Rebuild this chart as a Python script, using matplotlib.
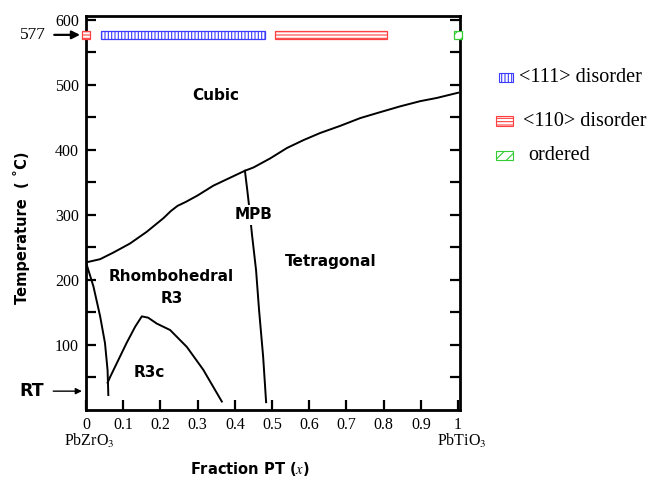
import matplotlib
matplotlib.use("Agg")
import matplotlib.pyplot as plt
from matplotlib.patches import Rectangle

plt.rcParams['mathtext.fontset'] = 'stix'
plt.rcParams['hatch.linewidth'] = 0.8

# ---------------- data ----------------
cubic_x = [0.0, 0.038, 0.073, 0.118, 0.163, 0.208, 0.228, 0.246, 0.268, 0.30, 0.342, 0.427,
           0.45, 0.495, 0.54, 0.584, 0.629, 0.683, 0.737, 0.79, 0.844, 0.898, 0.943, 1.0]
cubic_T = [227, 232, 242, 256, 274, 295, 306, 314, 320, 330, 345, 368,
           373, 387, 403, 415, 426, 437, 449, 458, 467, 475, 480, 488]

mpb_x = [0.427, 0.433, 0.438, 0.446, 0.457, 0.465, 0.476, 0.484]
mpb_T = [368, 340, 315, 270, 215, 154, 82, 12]

left_x = [0.0, 0.02, 0.038, 0.051, 0.058, 0.06]
left_T = [227, 190, 144, 103, 61, 23]

r3c_x = [0.058, 0.065, 0.087, 0.109, 0.132, 0.15, 0.167, 0.19, 0.226, 0.271, 0.315, 0.365]
r3c_T = [42, 51, 77, 103, 128, 144, 142, 133, 123, 97, 62, 13]

bar_T = 577
bar_start = [-0.012, 0.040, 0.508, 0.989]
bar_end = [0.011, 0.481, 0.809, 1.011]
bar_kind = ['<110> disorder', '<111> disorder', '<110> disorder', 'ordered']

kinds = ['<111> disorder', '<110> disorder', 'ordered']
kind_color = {'<111> disorder': '#3b3bff', '<110> disorder': '#ff4040', 'ordered': '#33cc33'}
kind_hatch = {'<111> disorder': '|||||', '<110> disorder': '-----', 'ordered': '///'}

xticks = [0, 0.1, 0.2, 0.3, 0.4, 0.5, 0.6, 0.7, 0.8, 0.9, 1]
xticklabels = ['0', '0.1', '0.2', '0.3', '0.4', '0.5', '0.6', '0.7', '0.8', '0.9', '1']
yticks = [100, 200, 300, 400, 500, 600]
yminor = [50, 150, 250, 350, 450, 550]

regions = [('Cubic', 0.35, 483), ('Rhombohedral', 0.23, 206), ('R3', 0.23, 172),
           ('R3c', 0.17, 57), ('Tetragonal', 0.658, 228)]

# ---------------- figure ----------------
W, H = 653, 480
fig = plt.figure(figsize=(W / 100, H / 100), dpi=100)
ax = fig.add_axes([86 / W, 1 - 410 / H, (460 - 86) / W, (410 - 16) / H])
ax.set_xlim(0, 1.005)
ax.set_ylim(0, 606)

for s in ax.spines.values():
    s.set_linewidth(2)

tick_font = dict(family='Liberation Serif', fontsize=11.5)
ax.set_xticks(xticks)
ax.set_xticklabels(xticklabels, **tick_font)
ax.set_yticks(yticks)
ax.set_yticks(yminor, minor=True)
ax.set_yticklabels([str(v) for v in yticks], **tick_font)
ax.tick_params(which='both', direction='in', length=7, width=1.6, top=False, right=True)
ax.tick_params(axis='x', pad=5)
ax.tick_params(axis='y', pad=5)

lw = 1.4
ax.plot(cubic_x, cubic_T, color='black', lw=lw)
ax.plot(mpb_x, mpb_T, color='black', lw=lw)
ax.plot(left_x, left_T, color='black', lw=lw)
ax.plot(r3c_x, r3c_T, color='black', lw=lw)

for s0, s1, k in zip(bar_start, bar_end, bar_kind):
    ax.barh(bar_T, s1 - s0, left=s0, height=12, facecolor='white',
            edgecolor=kind_color[k], hatch=kind_hatch[k], linewidth=0.9,
            clip_on=False, zorder=3)

lab_font = dict(family='DejaVu Sans', fontweight='bold', fontsize=11, ha='center', va='center')
for name, x, T in regions:
    ax.text(x, T, name, **lab_font)
ax.text(0.449, 300, 'MPB', bbox=dict(facecolor='white', edgecolor='none', pad=1.5), **lab_font)

# arrows at 577 and RT
ax.annotate('577', xy=(-0.016, 577), xytext=(-60, 577), textcoords=('offset pixels', 'data'),
            fontsize=12.5, family='Liberation Serif', va='center', ha='left',
            arrowprops=dict(arrowstyle='-|>', color='black', lw=1.6, mutation_scale=12,
                            shrinkA=4, shrinkB=0), annotation_clip=False)
ax.annotate('RT', xy=(-0.011, 29), xytext=(-63, 29), textcoords=('offset pixels', 'data'),
            fontsize=12.5, family='DejaVu Sans', fontweight='bold', va='center', ha='left',
            arrowprops=dict(arrowstyle='-|>', color='black', lw=1.0, mutation_scale=9,
                            shrinkA=5, shrinkB=0), annotation_clip=False)

# axis labels
fig.text(22 / W, 1 - 228 / H, 'Temperature  ( ˚C)', rotation=90, ha='center', va='center',
         family='DejaVu Sans', fontweight='bold', fontsize=10.5)
fig.text(250 / W, 1 - 469 / H, 'Fraction PT ($x$)', ha='center', va='center',
         family='DejaVu Sans', fontweight='bold', fontsize=10.5)
fig.text(89 / W, 1 - 441 / H, 'PbZrO$_3$', ha='center', va='center',
         family='Liberation Serif', fontsize=11.5)
fig.text(462 / W, 1 - 441 / H, 'PbTiO$_3$', ha='center', va='center',
         family='Liberation Serif', fontsize=11.5)

# legend (drawn manually)
leg_boxes = {'<111> disorder': (499, 73, 14, 9), '<110> disorder': (496, 116, 17, 10),
             'ordered': (496, 151, 17, 9)}
leg_text = {'<111> disorder': (519, 78), '<110> disorder': (523, 121), 'ordered': (528, 155)}
for k in kinds:
    x0, y0, w, h = leg_boxes[k]
    fig.patches.append(Rectangle((x0 / W, 1 - (y0 + h) / H), w / W, h / H,
                                 transform=fig.transFigure, facecolor='white',
                                 edgecolor=kind_color[k], hatch=kind_hatch[k], linewidth=0.8))
    tx, ty = leg_text[k]
    fig.text(tx / W, 1 - ty / H, k, ha='left', va='center', family='Liberation Serif', fontsize=14.5)

fig.savefig('out.png', dpi=100)
